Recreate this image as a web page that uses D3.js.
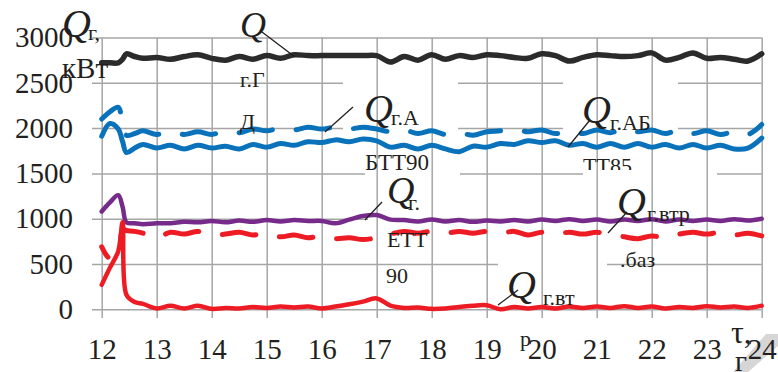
<!DOCTYPE html>
<html>
<head>
<meta charset="utf-8">
<script src="https://cdn.jsdelivr.net/npm/d3@7"></script>
<style>
  body { margin: 0; background: #fff; }
  svg { display: block; }
  text { font-family: "Liberation Serif", "Times New Roman", serif; fill: #231f20; }
</style>
</head>
<body>
<div id="chart"></div>
<script>
// hours of the day (x) and heat flows, kW (y)
const hours = [12, 12.15, 12.3, 12.38, 12.45, 12.6, 12.75,
  13, 13.25, 13.5, 13.75, 14, 14.25, 14.5, 14.75, 15, 15.25, 15.5, 15.75,
  16, 16.25, 16.5, 16.75, 17, 17.25, 17.5, 17.75, 18, 18.25, 18.5, 18.75,
  19, 19.25, 19.5, 19.75, 20, 20.25, 20.5, 20.75, 21, 21.25, 21.5, 21.75,
  22, 22.25, 22.5, 22.75, 23, 23.25, 23.5, 23.75, 24];

const qGD = [2720, 2720, 2720, 2760, 2820, 2790, 2770,
  2780, 2760, 2790, 2810, 2770, 2750, 2790, 2760, 2800, 2770, 2810, 2800,
  2800, 2800, 2800, 2800, 2800, 2730, 2790, 2750, 2810, 2760, 2800, 2780,
  2810, 2800, 2780, 2770, 2820, 2800, 2740, 2780, 2810, 2800, 2790, 2800,
  2830, 2750, 2780, 2830, 2770, 2780, 2760, 2740, 2820];

const qABTT90 = [1910, 2050, 1990, 1850, 1730, 1780, 1820,
  1780, 1810, 1770, 1810, 1780, 1800, 1770, 1820, 1790, 1830, 1810, 1850,
  1840, 1870, 1850, 1880, 1860, 1790, 1810, 1770, 1810, 1770, 1740, 1800,
  1790, 1830, 1820, 1860, 1840, 1860, 1810, 1830, 1790, 1830, 1790, 1830,
  1790, 1820, 1780, 1820, 1780, 1810, 1770, 1780, 1890];

const qABTT85 = [2100, 2180, 2230, 2050, 1920, 1940, 1970,
  1930, 1960, 1930, 1960, 1930, 1970, 1950, 1990, 1970, 2000, 1980, 2010,
  1990, 2010, 1990, 2010, 1990, 1960, 1980, 1940, 1970, 1930, 1950, 1920,
  1960, 1970, 1990, 1960, 1980, 1940, 1970, 1940, 1980, 1950, 1990, 1960,
  1980, 1940, 1980, 1940, 1970, 1930, 1960, 1930, 2040];

const qETT90 = [1080, 1180, 1260, 1130, 960, 950, 940,
  950, 950, 965, 960, 975, 960, 980, 965, 985, 970, 985, 975,
  975, 950, 990, 1030, 1040, 990, 985, 970, 990, 970, 985, 965,
  980, 970, 985, 970, 990, 975, 995, 975, 990, 970, 990, 975,
  995, 970, 990, 975, 990, 975, 995, 980, 1000];

const qVtrBaz = [690, 560, 620, 880, 870, 860, 840,
  790, 850, 830, 860, 820, 830, 850, 820, 840, 800, 820, 790,
  810, 780, 790, 770, 790, 830, 860, 840, 860, 840, 860, 840,
  860, 840, 860, 820, 850, 830, 850, 830, 850, 830, 800, 780,
  810, 790, 830, 850, 830, 850, 820, 840, 810];

const qVtr = [270, 460, 640, 960, 160, 80, 60,
  10, 40, 10, 40, 5, 15, 10, 25, 15, 30, 20, 30,
  10, 30, 55, 85, 120, 40, 15, 20, 5, 10, 25, 40,
  45, 0, 25, 10, 25, 10, 30, 15, 30, 15, 35, 15,
  30, 10, 25, 15, 35, 20, 30, 15, 40];

const xTicks = [12, 13, 14, 15, 16, 17, 18, 19, 20, 21, 22, 23, 24];
const yTicks = [0, 500, 1000, 1500, 2000, 2500, 3000];

const series = [
  { values: qGD, color: '#2b2b2b', width: 5.5, dash: null, offset: 0 },
  { values: qABTT90, color: '#0a72ba', width: 5, dash: null, offset: 0 },
  { values: qABTT85, color: '#0a72ba', width: 5, dash: '34,24', offset: 8 },
  { values: qETT90, color: '#762a8a', width: 4.5, dash: null, offset: 0 },
  { values: qVtrBaz, color: '#ed1c24', width: 5, dash: '34,24', offset: 22 },
  { values: qVtr, color: '#ed1c24', width: 4.5, dash: null, offset: 0 }
];

const width = 778, height = 372;
const svg = d3.select('#chart').append('svg')
  .attr('width', width)
  .attr('height', height);

const x = d3.scaleLinear().domain([12, 24]).range([101.7, 761.7]);
const y = d3.scaleLinear().domain([0, 3000]).range([309.3, 37.5]);

// grid + ticks via axes
const yAxis = svg.append('g')
  .attr('transform', 'translate(92,0)')
  .call(d3.axisLeft(y).tickValues(yTicks).tickSize(-(761.7 - 92)).tickPadding(19).tickFormat(d3.format('d')));

const xAxis = svg.append('g')
  .attr('transform', 'translate(0,318)')
  .call(d3.axisBottom(x).tickValues(xTicks).tickSize(-(318 - 37.5)).tickPadding(20).tickFormat(d3.format('d')));

[yAxis, xAxis].forEach(a => {
  a.select('.domain').remove();
  a.selectAll('.tick line').attr('stroke', '#a6a6a6').attr('stroke-width', 1.5);
  a.selectAll('.tick text')
    .attr('font-size', 29)
    .attr('font-family', '"Liberation Serif", "Times New Roman", serif')
    .attr('fill', '#231f20');
});

// white label boxes that hide the grid
const boxes = [
  [343, 72, 115, 60], [365, 140, 95, 38],
  [368, 180, 62, 75],
  [563, 72, 115, 60], [583, 140, 134, 35],
  [498, 238, 109, 67]
];
svg.append('g').selectAll('rect').data(boxes).enter().append('rect')
  .attr('x', d => d[0]).attr('y', d => d[1])
  .attr('width', d => d[2]).attr('height', d => d[3])
  .attr('fill', '#fff');

// gray corner shape
svg.append('polygon')
  .attr('points', '766,334 778,334 778,346 748,372 733,372')
  .attr('fill', '#d6d6d6');
xAxis.raise();

const line = d3.line()
  .x((d, i) => x(hours[i]))
  .y(d => y(d))
  .curve(d3.curveCatmullRom.alpha(0.5));

svg.append('g').selectAll('path').data(series).enter().append('path')
  .attr('d', d => line(d.values))
  .attr('fill', 'none')
  .attr('stroke', d => d.color)
  .attr('stroke-width', d => d.width)
  .attr('stroke-linecap', 'round')
  .attr('stroke-linejoin', 'round')
  .attr('stroke-dasharray', d => d.dash)
  .attr('stroke-dashoffset', d => d.offset);

// leader lines
const leaders = [
  [262, 32, 295, 57], [353, 107, 325, 132], [382, 202, 365, 220],
  [590, 120, 568, 147], [627, 212, 608, 233], [518, 290, 498, 305]
];
svg.append('g').selectAll('line').data(leaders).enter().append('line')
  .attr('x1', d => d[0]).attr('y1', d => d[1])
  .attr('x2', d => d[2]).attr('y2', d => d[3])
  .attr('stroke', '#231f20').attr('stroke-width', 1.3);

// text labels
const labels = [
  { t: 'Q', x: 62, y: 37, s: 40, it: true },
  { t: 'г,', x: 88, y: 40, s: 22 },
  { t: 'кВт', x: 62, y: 78, s: 29 },
  { t: 'Q', x: 240, y: 37, s: 36, it: true },
  { t: 'г.Г', x: 240, y: 87, s: 22 },
  { t: 'Д', x: 240, y: 129, s: 22 },
  { t: 'Q', x: 364, y: 122, s: 40, it: true },
  { t: 'г.А', x: 391, y: 125, s: 22 },
  { t: 'БТТ90', x: 365, y: 170, s: 23 },
  { t: 'Q', x: 387, y: 203, s: 38, it: true },
  { t: 'г.', x: 408, y: 210, s: 22 },
  { t: 'ЕТТ', x: 387, y: 247, s: 22 },
  { t: '90', x: 386, y: 283, s: 22 },
  { t: 'Q', x: 582, y: 123, s: 40, it: true },
  { t: 'г.АБ', x: 610, y: 130, s: 22 },
  { t: 'Q', x: 617, y: 215, s: 40, it: true },
  { t: 'г.втр', x: 647, y: 221, s: 22 },
  { t: '.баз', x: 620, y: 267, s: 22 },
  { t: 'Q', x: 507, y: 298, s: 40, it: true },
  { t: 'г.вт', x: 543, y: 305, s: 22 },
  { t: 'р', x: 520, y: 346, s: 22 },
  { t: 'τ,', x: 731, y: 343, s: 32 },
  { t: 'г', x: 735, y: 371, s: 29 }
];
svg.append('g').selectAll('text').data(labels).enter().append('text')
  .attr('x', d => d.x).attr('y', d => d.y)
  .attr('font-size', d => d.s)
  .attr('font-style', d => d.it ? 'italic' : null)
  .text(d => d.t);

// ТТ85 is cut off by its box
svg.append('clipPath').attr('id', 'cut85')
  .append('rect').attr('x', 570).attr('y', 140).attr('width', 100).attr('height', 30);
svg.append('text')
  .attr('x', 583).attr('y', 173)
  .attr('font-size', 22)
  .attr('clip-path', 'url(#cut85)')
  .text('ТТ85');
</script>
</body>
</html>
